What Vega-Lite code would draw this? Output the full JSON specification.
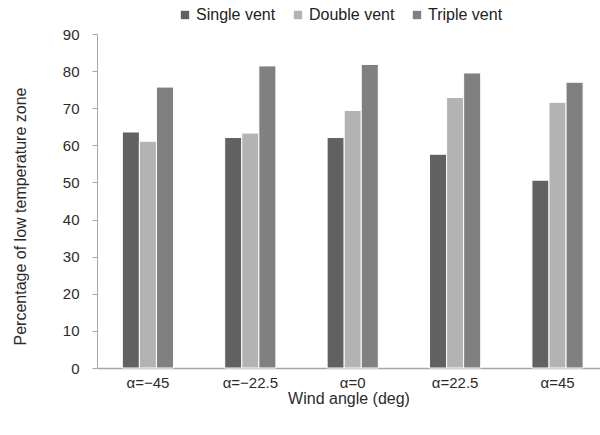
{
  "$schema": "https://vega.github.io/schema/vega-lite/v6.json",
  "width": 503,
  "height": 334,
  "autosize": {"type": "none"},
  "padding": {"left": 97, "top": 34, "right": 0, "bottom": 67},
  "background": "white",
  "config": {
    "view": {"stroke": null},
    "font": "Liberation Sans",
    "axis": {"labelFont": "Liberation Sans", "titleFont": "Liberation Sans", "labelColor": "#2b2b2b", "titleColor": "#2b2b2b", "titleFontWeight": "normal"},
    "legend": {"labelFont": "Liberation Sans"}
  },
  "data": {
    "values": [
      {"angle": "α=−45", "series": "Single vent", "value": 63.6},
      {"angle": "α=−45", "series": "Double vent", "value": 61.1},
      {"angle": "α=−45", "series": "Triple vent", "value": 75.7},
      {"angle": "α=−22.5", "series": "Single vent", "value": 62.1},
      {"angle": "α=−22.5", "series": "Double vent", "value": 63.3},
      {"angle": "α=−22.5", "series": "Triple vent", "value": 81.4},
      {"angle": "α=0", "series": "Single vent", "value": 62.1},
      {"angle": "α=0", "series": "Double vent", "value": 69.4},
      {"angle": "α=0", "series": "Triple vent", "value": 81.8},
      {"angle": "α=22.5", "series": "Single vent", "value": 57.6},
      {"angle": "α=22.5", "series": "Double vent", "value": 72.9},
      {"angle": "α=22.5", "series": "Triple vent", "value": 79.5},
      {"angle": "α=45", "series": "Single vent", "value": 50.6},
      {"angle": "α=45", "series": "Double vent", "value": 71.6},
      {"angle": "α=45", "series": "Triple vent", "value": 77.0}
    ]
  },
  "mark": {"type": "bar", "stroke": "white", "strokeWidth": 1},
  "encoding": {
    "x": {
      "field": "angle",
      "type": "nominal",
      "sort": ["α=−45", "α=−22.5", "α=0", "α=22.5", "α=45"],
      "scale": {"paddingInner": 0.5, "paddingOuter": 0.206, "align": 0.6},
      "axis": {
        "title": "Wind angle (deg)",
        "labelAngle": 0,
        "ticks": false,
        "labelFontSize": 15,
        "labelPadding": 7,
        "titleFontSize": 16,
        "titlePadding": 0,
        "domainColor": "#a6a6a6",
        "domainWidth": 1.5
      }
    },
    "xOffset": {
      "field": "series",
      "type": "nominal",
      "sort": ["Single vent", "Double vent", "Triple vent"],
      "scale": {"paddingInner": 0, "paddingOuter": 0}
    },
    "y": {
      "field": "value",
      "type": "quantitative",
      "scale": {"domain": [0, 90], "nice": false},
      "axis": {
        "title": "Percentage of low temperature zone",
        "values": [0, 10, 20, 30, 40, 50, 60, 70, 80, 90],
        "grid": false,
        "tickSize": 5,
        "labelPadding": 13,
        "labelFontSize": 15,
        "titleFontSize": 16,
        "titlePadding": 34,
        "titleY": 182,
        "domainColor": "#a6a6a6",
        "tickColor": "#a6a6a6"
      }
    },
    "color": {
      "field": "series",
      "type": "nominal",
      "sort": ["Single vent", "Double vent", "Triple vent"],
      "scale": {"domain": ["Single vent", "Double vent", "Triple vent"], "range": ["#616161", "#b3b3b3", "#808080"]},
      "legend": {
        "title": null,
        "orient": "none",
        "direction": "horizontal",
        "legendX": 80,
        "legendY": -27,
        "symbolType": "square",
        "symbolSize": 70,
        "symbolStrokeWidth": 0,
        "labelFontSize": 16,
        "labelColor": "#222222",
        "columnPadding": 14,
        "labelOffset": 3
      }
    }
  }
}
